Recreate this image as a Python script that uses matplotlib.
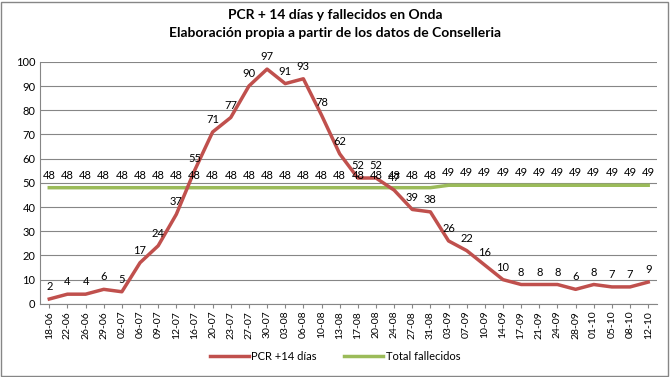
import matplotlib.pyplot as plt

plt.rcParams['font.family'] = ['Lato', 'DejaVu Sans']

fechas = ['18-06', '22-06', '26-06', '29-06', '02-07', '06-07', '09-07', '12-07',
          '16-07', '20-07', '23-07', '27-07', '30-07', '03-08', '06-08', '10-08',
          '13-08', '17-08', '20-08', '24-08', '27-08', '31-08', '03-09', '07-09',
          '10-09', '14-09', '17-09', '21-09', '24-09', '28-09', '01-10', '05-10',
          '08-10', '12-10']
pcr = [2, 4, 4, 6, 5, 17, 24, 37, 55, 71, 77, 90, 97, 91, 93, 78, 62, 52, 52, 47,
       39, 38, 26, 22, 16, 10, 8, 8, 8, 6, 8, 7, 7, 9]
fallecidos = [48] * 22 + [49] * 12

fig = plt.figure(figsize=(6.7, 3.77), dpi=100)
ax = fig.add_axes([0.06, 0.194, 0.921, 0.642])
x = range(len(fechas))

ax.plot(x, pcr, color='#C0504D', linewidth=2.5, label='PCR +14 días', zorder=3)
ax.plot(x, fallecidos, color='#9BBB59', linewidth=2.5, label='Total fallecidos', zorder=2)

for i in x:
    ax.annotate(str(pcr[i]), (i, pcr[i]), xytext=(0, 5), textcoords='offset points',
                ha='center', va='bottom', fontsize=8)
    ax.annotate(str(fallecidos[i]), (i, fallecidos[i]), xytext=(0, 5), textcoords='offset points',
                ha='center', va='bottom', fontsize=8)

ax.set_xlim(-0.5, len(fechas) - 0.5)
ax.set_ylim(0, 100)
ax.set_yticks(range(0, 101, 10))
ax.set_xticks(list(x))
ax.set_xticklabels(fechas, rotation=90, fontsize=7.5)
ax.tick_params(axis='y', labelsize=8, length=0)
ax.tick_params(axis='x', length=3, color='#868686', pad=2)
ax.grid(axis='y', color='#868686', linewidth=0.8)
ax.set_axisbelow(True)
for s in ['top', 'right']:
    ax.spines[s].set_visible(False)
ax.spines['left'].set_color('#868686')
ax.spines['bottom'].set_color('#868686')

fig.suptitle('PCR + 14 días y fallecidos en Onda\nElaboración propia a partir de los datos de Conselleria',
             fontsize=10, fontweight='bold', y=0.975, linespacing=1.6)
fig.legend(loc='center', bbox_to_anchor=(0.5, 0.055), ncol=2, frameon=False,
           fontsize=8, handlelength=3.5, columnspacing=2.5, handletextpad=0.2)

fig.patches.append(plt.Rectangle((0.002, 0.003), 0.995, 0.993, transform=fig.transFigure,
                                 fill=False, edgecolor='#868686', linewidth=1))
fig.savefig('out.png', dpi=100)
